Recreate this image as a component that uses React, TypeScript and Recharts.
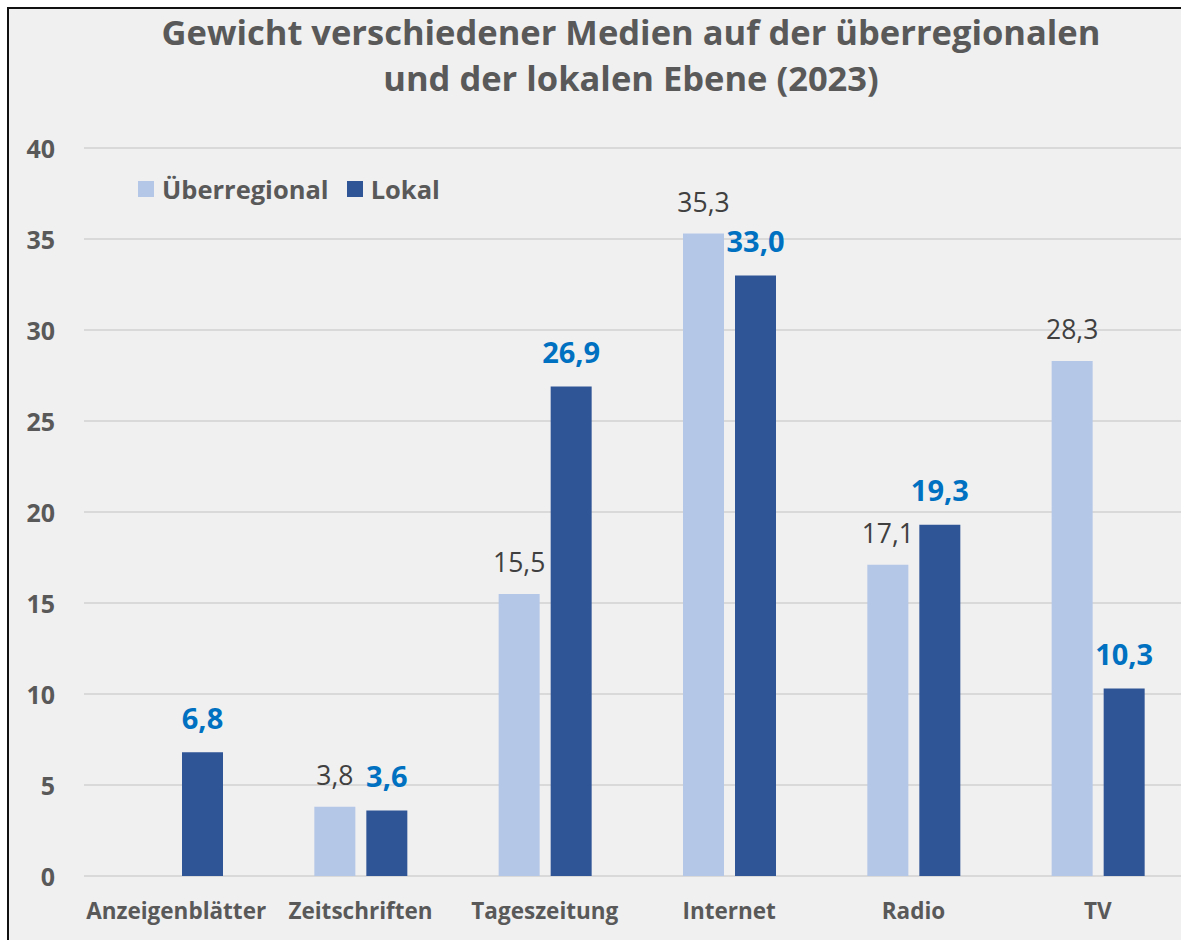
import { BarChart, Bar, XAxis, YAxis, CartesianGrid, LabelList } from 'recharts';

const CATEGORIES = ['Anzeigenblätter', 'Zeitschriften', 'Tageszeitung', 'Internet', 'Radio', 'TV'];
const UEBERREGIONAL: (number | null)[] = [null, 3.8, 15.5, 35.3, 17.1, 28.3];
const LOKAL: (number | null)[] = [6.8, 3.6, 26.9, 33.0, 19.3, 10.3];
const Y_TICKS = [0, 5, 10, 15, 20, 25, 30, 35, 40];

const SERIES = [
  { key: 'ueberregional', name: 'Überregional', color: '#b4c7e7' },
  { key: 'lokal', name: 'Lokal', color: '#2f5597' },
];

const TITLE_LINES = [
  'Gewicht verschiedener Medien auf der überregionalen',
  'und der lokalen Ebene (2023)',
];

const FONT = '"Open Sans", "DejaVu Sans", sans-serif';
const GREY = '#595959';

const chartData = CATEGORIES.map((name, i) => ({
  name,
  ueberregional: UEBERREGIONAL[i],
  lokal: LOKAL[i],
}));

const fmt = (v: number) => v.toFixed(1).replace('.', ',');

function makeLabel(color: string, size: number, weight: number, lift: number) {
  return (props: any) => {
    const { x, y, width, value } = props;
    if (value === null || value === undefined) return null;
    return (
      <text
        x={Number(x) + Number(width) / 2}
        y={Number(y) - lift}
        textAnchor="middle"
        dominantBaseline="central"
        fill={color}
        fontSize={size}
        fontWeight={weight}
        fontFamily={FONT}
      >
        {fmt(Number(value))}
      </text>
    );
  };
}

function YTick(props: any) {
  const { y, payload } = props;
  return (
    <text x={55} y={y} textAnchor="end" dominantBaseline="central" fill={GREY}
      fontSize={25} fontWeight={700} fontFamily={FONT}>
      {payload.value}
    </text>
  );
}

function XTick(props: any) {
  const { x, payload } = props;
  return (
    <text x={x} y={910} textAnchor="middle" dominantBaseline="central" fill={GREY}
      fontSize={22.5} fontWeight={700} fontFamily={FONT}>
      {payload.value}
    </text>
  );
}

export default function App() {
  return (
    <div style={{ position: 'absolute', left: 0, top: 0, width: 1181, height: 940, background: '#fff', overflow: 'hidden', fontFamily: FONT }}>
      {/* frame */}
      <div style={{ position: 'absolute', left: 7, top: 7, right: -10, bottom: -10, background: '#f0f0f0', borderTop: '2px solid #111', borderLeft: '2px solid #111' }} />

      <div style={{ position: 'absolute', left: 131, top: 9, width: 1000, textAlign: 'center', color: GREY, fontSize: 34.5, fontWeight: 700, lineHeight: '46px', whiteSpace: 'nowrap' }}>
        {TITLE_LINES.map((t) => <div key={t}>{t}</div>)}
      </div>

      <div style={{ position: 'absolute', left: 138, top: 172, display: 'flex', alignItems: 'center', color: GREY, fontSize: 25.5, fontWeight: 700 }}>
        {SERIES.map((s) => (
          <div key={s.key} style={{ display: 'flex', alignItems: 'center', marginRight: 18 }}>
            <span style={{ display: 'inline-block', width: 16, height: 16, background: s.color, marginRight: 8 }} />
            <span>{s.name}</span>
          </div>
        ))}
      </div>

      <div style={{ position: 'absolute', left: 0, top: 0 }}>
        <BarChart width={1190} height={940} data={chartData} barSize={41} barGap={11}
          margin={{ top: 148, right: 0, bottom: 0, left: 0 }}>
          <CartesianGrid horizontal vertical={false} stroke="#d9d9d9" strokeWidth={2} />
          <XAxis dataKey="name" height={64} axisLine={false} tickLine={false} tick={<XTick />} interval={0} />
          <YAxis width={84} domain={[0, 40]} ticks={Y_TICKS} axisLine={false} tickLine={false} tick={<YTick />} />
          <Bar dataKey="ueberregional" name="Überregional" fill={SERIES[0].color} isAnimationActive={false}>
            <LabelList dataKey="ueberregional" content={makeLabel('#404040', 26.5, 400, 32)} />
          </Bar>
          <Bar dataKey="lokal" name="Lokal" fill={SERIES[1].color} isAnimationActive={false}>
            <LabelList dataKey="lokal" content={makeLabel('#0070c0', 29, 700, 35)} />
          </Bar>
        </BarChart>
      </div>
    </div>
  );
}
